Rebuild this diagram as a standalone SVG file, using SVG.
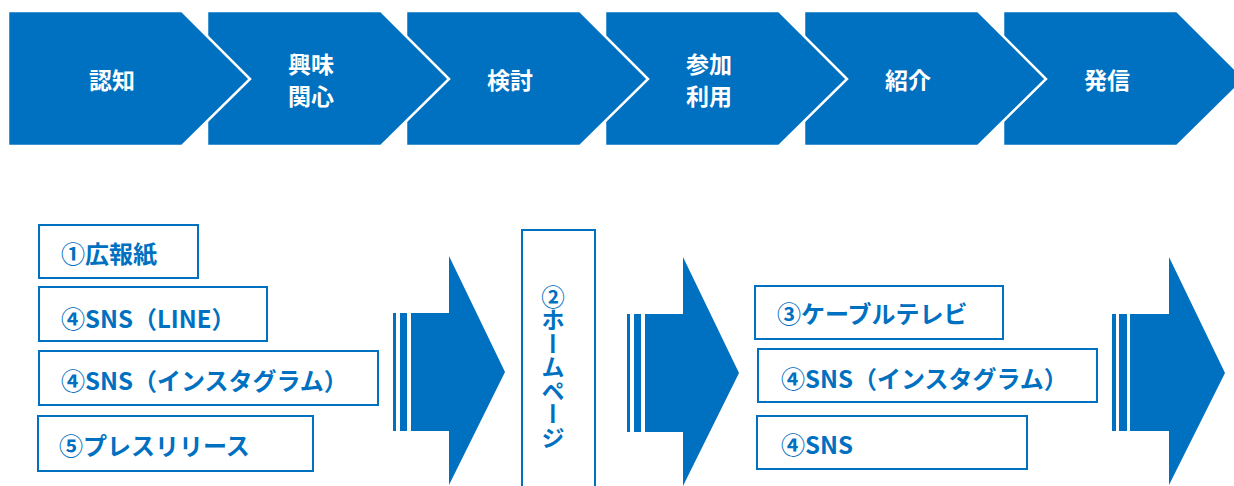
<svg xmlns="http://www.w3.org/2000/svg" width="1234" height="486" viewBox="0 0 1234 486">
  <style>
    .chev { fill: #0070C0; stroke: #FFFFFF; stroke-width: 2.5; stroke-linejoin: miter; }
    .chevtxt { fill: #FFFFFF; font-family: "Noto Sans CJK JP", "Noto Sans", sans-serif; font-weight: bold; font-size: 23px; text-anchor: middle; dominant-baseline: central; }
    .box { fill: #FFFFFF; stroke: #0070C0; stroke-width: 2; }
    .boxtxt { fill: #0070C0; font-family: "Noto Sans CJK JP", "Noto Sans", sans-serif; font-weight: bold; font-size: 24px; dominant-baseline: central; }
    .arrow { fill: #0070C0; }
  </style>
  <rect width="1234" height="486" fill="#FFFFFF"/>

  <!-- chevrons drawn right to left so the left one overlaps -->
  <g id="chevron-6">
    <polygon class="chev" points="1003,11 1177,11 1245,79 1177,146 1003,146"/>
    <text class="chevtxt" x="1107" y="79">発信</text>
  </g>
  <g id="chevron-5">
    <polygon class="chev" points="804,11 978,11 1046,79 978,146 804,146"/>
    <text class="chevtxt" x="908" y="79">紹介</text>
  </g>
  <g id="chevron-4">
    <polygon class="chev" points="605,11 779,11 847,79 779,146 605,146"/>
    <text class="chevtxt" x="709" y="63">参加</text>
    <text class="chevtxt" x="709" y="95">利用</text>
  </g>
  <g id="chevron-3">
    <polygon class="chev" points="406,11 580,11 648,79 580,146 406,146"/>
    <text class="chevtxt" x="510" y="79">検討</text>
  </g>
  <g id="chevron-2">
    <polygon class="chev" points="207,11 381,11 449,79 381,146 207,146"/>
    <text class="chevtxt" x="311" y="63">興味</text>
    <text class="chevtxt" x="311" y="95">関心</text>
  </g>
  <g id="chevron-1">
    <polygon class="chev" points="8,11 182,11 250,79 182,146 8,146"/>
    <text class="chevtxt" x="112" y="79">認知</text>
  </g>

  <!-- left column boxes -->
  <g id="box-kohoshi">
    <rect class="box" x="39" y="225" width="159" height="53"/>
    <text class="boxtxt" x="61" y="252">①広報紙</text>
  </g>
  <g id="box-sns-line">
    <rect class="box" x="39" y="287" width="228" height="54"/>
    <text class="boxtxt" x="61" y="317">④SNS（LINE）</text>
  </g>
  <g id="box-sns-insta-1">
    <rect class="box" x="39" y="351" width="339" height="54"/>
    <text class="boxtxt" x="61" y="379">④SNS（インスタグラム）</text>
  </g>
  <g id="box-press">
    <rect class="box" x="38" y="416" width="275" height="55"/>
    <text class="boxtxt" x="59" y="444">⑤プレスリリース</text>
  </g>

  <!-- homepage vertical box -->
  <g id="box-homepage">
    <rect class="box" x="522" y="230" width="73" height="270"/>
    <text class="boxtxt" x="553" y="285" style="writing-mode: vertical-rl; dominant-baseline: central; font-size: 23.5px;">②ホームページ</text>
  </g>

  <!-- right column boxes -->
  <g id="box-catv">
    <rect class="box" x="755" y="286" width="248" height="53"/>
    <text class="boxtxt" x="777" y="312">③ケーブルテレビ</text>
  </g>
  <g id="box-sns-insta-2">
    <rect class="box" x="758" y="349" width="339" height="53"/>
    <text class="boxtxt" x="781" y="377">④SNS（インスタグラム）</text>
  </g>
  <g id="box-sns">
    <rect class="box" x="757" y="416" width="270" height="53"/>
    <text class="boxtxt" x="781" y="443">④SNS</text>
  </g>

  <!-- striped block arrows -->
  <g id="connectors">
    <g id="arrow-1">
      <rect class="arrow" x="393" y="313" width="3" height="118"/>
      <rect class="arrow" x="400" y="313" width="7" height="118"/>
      <polygon class="arrow" points="411,313 449,313 449,256 505,372 449,485 449,431 411,431"/>
    </g>
    <g id="arrow-2">
      <rect class="arrow" x="627" y="314" width="3" height="118"/>
      <rect class="arrow" x="634" y="314" width="7" height="118"/>
      <polygon class="arrow" points="645,314 683,314 683,257 739,373 683,486 683,432 645,432"/>
    </g>
    <g id="arrow-3">
      <rect class="arrow" x="1112" y="314" width="4" height="117"/>
      <rect class="arrow" x="1119" y="314" width="8" height="117"/>
      <polygon class="arrow" points="1130,314 1169,314 1169,257 1225,373 1169,485 1169,431 1130,431"/>
    </g>
  </g>
</svg>
